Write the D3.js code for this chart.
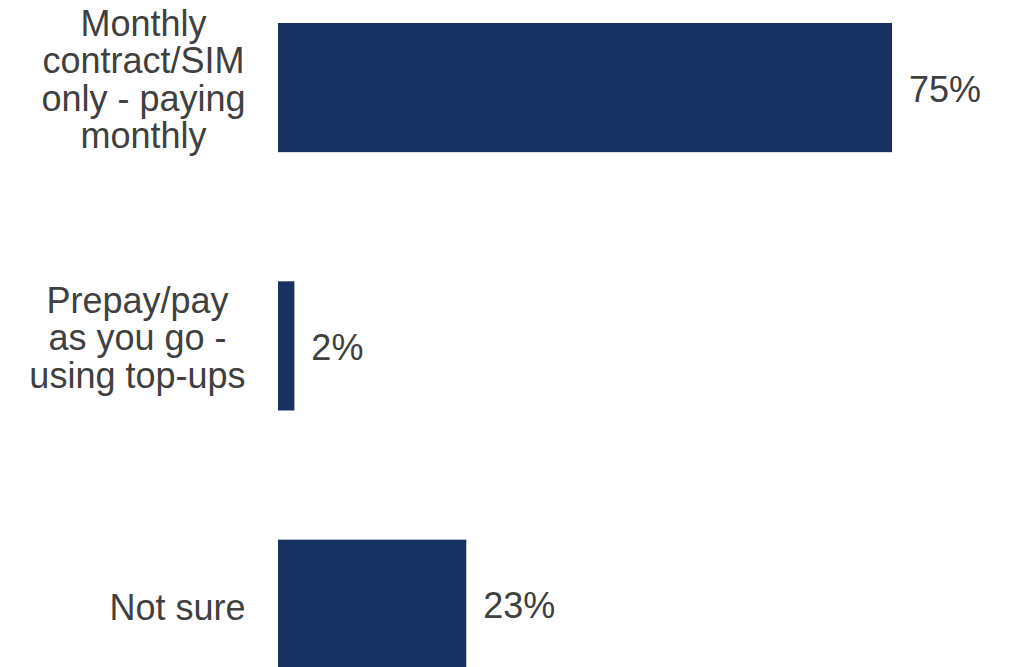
<!DOCTYPE html>
<html>
<head>
<meta charset="utf-8">
<script src="https://cdn.jsdelivr.net/npm/d3@7"></script>
<style>
  html, body { margin: 0; padding: 0; background: #fff; }
  svg { display: block; }
  text { font-family: "Liberation Sans", Arial, sans-serif; fill: #404040; }
</style>
</head>
<body>
<svg id="chart" width="1013" height="667"></svg>
<script>
const categories = [
  ["Monthly", "contract/SIM", "only - paying", "monthly"],
  ["Prepay/pay", "as you go -", "using top-ups"],
  ["Not sure"]
];
const values = [75, 2, 23];
const valueLabels = ["75%", "2%", "23%"];

const W = 1013, H = 667;
const svg = d3.select("#chart");
const ids = d3.range(values.length);

const x = d3.scaleLinear().domain([0, 75]).range([278, 892]);
const y = d3.scaleBand().domain(ids).range([-41.6, 733.4]).paddingInner(0.5).paddingOuter(0.25);

svg.selectAll("rect.bar").data(ids).join("rect")
  .attr("class", "bar")
  .attr("x", x(0))
  .attr("y", i => y(i))
  .attr("width", i => x(values[i]) - x(0))
  .attr("height", y.bandwidth())
  .attr("fill", "#173162");

const fs = 36, lh = 37.3;

svg.selectAll("text.val").data(ids).join("text")
  .attr("class", "val")
  .attr("x", i => x(values[i]) + 17)
  .attr("y", i => y(i) + y.bandwidth() / 2 + 14)
  .attr("font-size", fs)
  .text(i => valueLabels[i]);

const rightEdge = 245.5;
ids.forEach(i => {
  const lines = categories[i];
  const n = lines.length;
  const cy = y(i) + y.bandwidth() / 2;
  const off = n > 1 ? 4.5 : 15.5;
  const g = svg.append("g");
  const ts = lines.map((ln, k) => g.append("text")
    .attr("font-size", fs)
    .attr("text-anchor", "middle")
    .attr("y", cy + (k - (n - 1) / 2) * lh + off)
    .text(ln));
  const maxW = d3.max(ts, t => t.node().getComputedTextLength());
  ts.forEach(t => t.attr("x", rightEdge - maxW / 2));
});
</script>
</body>
</html>
